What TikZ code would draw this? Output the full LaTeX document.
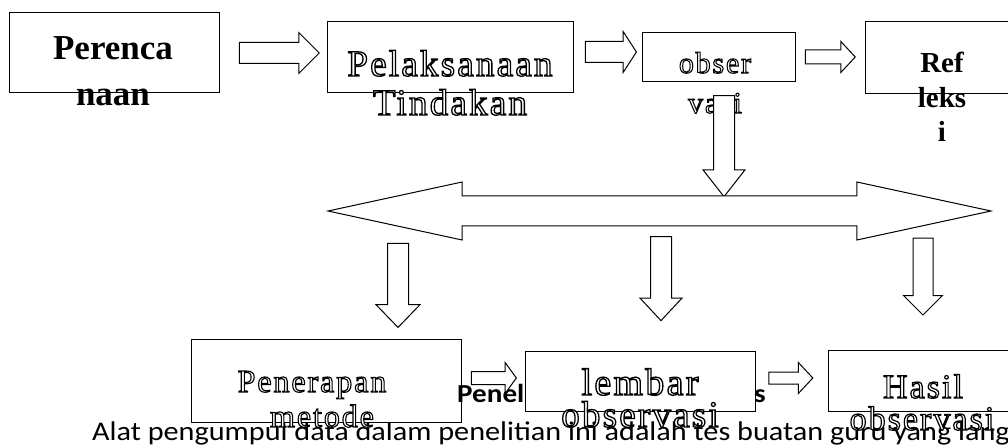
\documentclass[tikz,border=0pt]{standalone}
\usepackage{fontspec}
\setmainfont{Liberation Serif}
\newfontfamily\calib{Carlito}[FakeStretch=1.12]
\newfontfamily\outfont{Liberation Serif}[FakeBold=3.5,LetterSpace=6]
\usetikzlibrary{shapes.arrows}
\newcommand\outl[1]{{\outfont\special{pdf:code 1 g}#1}}
\begin{document}
\begin{tikzpicture}[x=1pt,y=-1pt,
 box/.style={draw,fill=white,line width=1pt,inner sep=0pt},
 rarr/.style={single arrow,draw,fill=white,line width=1pt,inner xsep=0pt},
 darr/.style={rarr,rotate=-90},
 lbl/.style={anchor=base,inner sep=0pt},
 lblb/.style={anchor=base,inner sep=0pt,font=\bfseries\fontsize{33}{33}\selectfont}]
 \useasboundingbox[fill=white] (0,0) rectangle (1008,446);
 % top row
 \node[box,minimum width=210,minimum height=80] (perencanaan) at (114,53) {};
 \node[box,minimum width=246,minimum height=71] (pelaksanaan) at (450,57.5) {};
 \node[box,minimum width=153,minimum height=49] (observasi) at (718.5,57.5) {};
 \node[box,minimum width=170,minimum height=72] (refleksi) at (950,58) {};
 \node[lblb,font=\bfseries\fontsize{35}{35}\selectfont] (tperenca) at (113,60) {Perenca};
 \node[lblb,font=\bfseries\fontsize{35}{35}\selectfont] (tnaan) at (113,106) {naan};
 \node[lbl,font=\fontsize{37}{37}\selectfont] (tpelak) at (450,76) {\outl{Pelaksanaan}};
 \node[lbl,font=\fontsize{37}{37}\selectfont] (ttind) at (450,115) {\outl{Tindakan}};
 \node[lbl,font=\fontsize{30}{30}\selectfont] (tobser) at (715,73) {\outl{obser}};
 \node[lbl,font=\fontsize{30}{30}\selectfont] (tvasi) at (715,113) {\outl{vasi}};
 \node[lblb,font=\bfseries\fontsize{29}{29}\selectfont] (tref) at (942,73) {Ref};
 \node[lblb,font=\bfseries\fontsize{29}{29}\selectfont] (tleks) at (942,108) {leks};
 \node[lblb,font=\bfseries\fontsize{29}{29}\selectfont] (ti) at (942,142) {i};
 \node[rarr,inner ysep=10,minimum height=80,minimum width=40,single arrow head extend=10,single arrow tip angle=90] (arr1) at (274,53) {};
 \node[rarr,inner ysep=10,minimum height=51,minimum width=40,single arrow head extend=10,single arrow tip angle=114] (arr2) at (607.5,52) {};
 \node[rarr,inner ysep=6.5,minimum height=50,minimum width=30,single arrow head extend=8.5,single arrow tip angle=94] (arr3) at (827,57) {};
 % middle
 \node[darr,inner ysep=10,minimum height=101,minimum width=41,single arrow head extend=10.5,single arrow tip angle=76] (down0) at (724,139.5) {};
 \node[double arrow,draw,fill=white,line width=1pt,inner xsep=0pt,inner ysep=14.5,minimum height=663,minimum width=57,double arrow head extend=14,double arrow tip angle=24.4] (dua) at (659.5,211) {};
 \node[darr,inner ysep=10,minimum height=84,minimum width=43,single arrow head extend=11.5,single arrow tip angle=88] (down1) at (398,280) {};
 \node[darr,inner ysep=10,minimum height=84,minimum width=41,single arrow head extend=10.5,single arrow tip angle=86] (down2) at (661,273) {};
 \node[darr,inner ysep=9.5,minimum height=77,minimum width=38,single arrow head extend=9.5,single arrow tip angle=90] (down3) at (923,271.5) {};
 % bottom row
 \node[anchor=base west,inner sep=0pt,font=\calib\fontsize{27}{27}\selectfont] (alat) at (92,440) {Alat pengumpul data dalam penelitian ini adalah tes buatan guru yang langs};
 \node[box,minimum width=270,minimum height=83] (penerapan) at (326,380.5) {};
 \node[anchor=base west,inner sep=0pt,font=\calib\bfseries\fontsize{26}{26}\selectfont] (judul) at (457,402) {Penelitian Tindakan Kelas};
 \node[box,minimum width=230,minimum height=60] (lembar) at (640,381) {};
 \node[box,minimum width=200,minimum height=61] (hasil) at (928,380.5) {};
 \node[rarr,inner ysep=6,minimum height=45,minimum width=30,single arrow head extend=9,single arrow tip angle=108] (arr4) at (491.5,378) {};
 \node[rarr,inner ysep=5.5,minimum height=44,minimum width=30,single arrow head extend=9.5,single arrow tip angle=94] (arr5) at (788,378) {};
 \node[lbl,font=\fontsize{32}{32}\selectfont] (tpener) at (312,392) {\outl{Penerapan}};
 \node[lbl,font=\fontsize{32}{32}\selectfont] (tmetode) at (322,427) {\outl{metode}};
 \node[lbl,font=\fontsize{38}{38}\selectfont] (tlembar) at (640,395) {\outl{lembar}};
 \node[lbl,font=\fontsize{37}{37}\selectfont] (tobs2) at (640,427) {\outl{observasi}};
 \node[lbl,font=\fontsize{34}{34}\selectfont] (thasil) at (923,398) {\outl{Hasil}};
 \node[lbl,font=\fontsize{34}{34}\selectfont] (tobs3) at (922,430) {\outl{observasi}};
\end{tikzpicture}
\end{document}
